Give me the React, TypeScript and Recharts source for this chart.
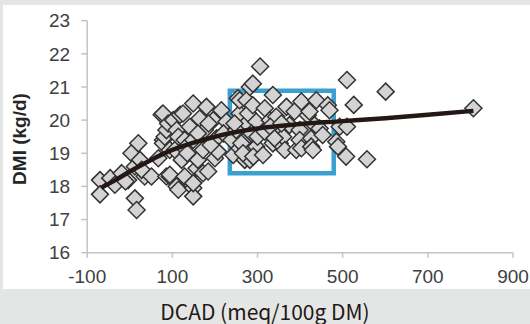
import React from 'react';
import { ScatterChart, Scatter, XAxis, YAxis, ReferenceArea } from 'recharts';

// Observed DCAD (meq/100g DM)
const dcad = [
  -70, -70, -46, -35, -19, -4, 4, 20, 12, 24, 35, 12, 16, -10, 28,
  51, 67, 75, 78, 78, 78, 82, 86, 86, 90, 94, 94, 94, 102, 106, 110, 110, 114, 114, 118, 122, 125, 129, 129, 129,
  141, 149, 149, 149, 149, 149, 157, 160, 164, 172, 172, 176, 180, 184, 196, 200, 204, 207, 215, 227, 160, 190, 220, 135, 185,
  239, 243, 254, 258, 258, 258, 270, 274, 274, 274, 274, 274, 278, 282, 282, 289, 289, 297, 297, 250, 262, 266, 286, 290, 246, 300,
  306, 313, 317, 317, 329, 336, 336, 344, 348, 352, 360, 364, 368, 375, 387, 391, 399, 399, 330, 340, 356,
  403, 403, 418, 422, 426, 426, 430, 434, 438, 446, 453, 465, 469, 485, 489, 493,
  510, 526, 510, 508, 557, 601, 807,
];
// Observed DMI (kg/d)
const dmi = [
  18.19, 17.76, 18.25, 18.05, 18.4, 18.19, 19.0, 19.3, 18.6, 18.8, 18.3, 17.64, 17.29, 18.15, 18.5,
  18.3, 18.85, 20.16, 20.2, 19.4, 19.3, 19.5, 18.3, 19.7, 19.9, 19.1, 18.3, 18.35, 20.0, 19.1, 19.7, 18.0, 19.5, 17.9, 20.16, 18.8, 20.2, 19.4, 19.15, 18.3,
  19.8, 20.5, 19.4, 17.95, 17.7, 18.1, 18.55, 18.8, 20.05, 19.1, 18.4, 19.7, 20.4, 18.45, 20.0, 18.85, 19.45, 19.05, 20.3, 19.95, 19.6, 19.25, 19.6, 19.0, 19.9,
  19.4, 18.95, 20.66, 20.2, 19.15, 20.6, 18.8, 19.9, 19.05, 19.45, 19.1, 20.6, 20.2, 21.0, 18.8, 21.1, 20.45, 19.95, 19.2, 19.7, 19.3, 19.0, 19.6, 18.9, 19.9, 19.5,
  21.62, 18.95, 20.36, 19.65, 20.0, 20.76, 19.3, 20.1, 19.6, 19.3, 19.5, 19.1, 20.4, 19.85, 20.26, 19.1, 19.7, 19.4, 19.8, 19.45, 19.9,
  20.56, 19.15, 20.15, 20.26, 19.45, 19.2, 19.1, 19.85, 20.6, 19.75, 19.55, 20.45, 20.3, 19.35, 19.2, 19.8,
  21.21, 20.46, 19.8, 18.9, 18.82, 20.86, 20.36,
];

// Fitted curve
const fitDcad = [-67, -30, 0, 50, 100, 150, 200, 250, 300, 400, 500, 600, 700, 807];
const fitDmi = [17.96, 18.22, 18.45, 18.8, 19.1, 19.32, 19.5, 19.64, 19.75, 19.88, 19.97, 20.06, 20.16, 20.28];

const xTicks = [-100, 100, 300, 500, 700, 900];
const yTicks = [16, 17, 18, 19, 20, 21, 22, 23];

// Highlighted window
const boxDcad = [235, 479];
const boxDmi = [18.4, 20.885];

const points = dcad.map((x, i) => ({ x, y: dmi[i] }));
const fit = fitDcad.map((x, i) => ({ x, y: fitDmi[i] }));

const Diamond = (props: any) => {
  const { cx, cy } = props;
  const r = 8.5;
  return (
    <polygon
      points={`${cx},${cy - r} ${cx + r},${cy} ${cx},${cy + r} ${cx - r},${cy}`}
      fill="#d3d3d3"
      stroke="#333333"
      strokeWidth={1.5}
    />
  );
};

const NoShape = () => <g />;

const tickStyle = { fontFamily: '"Liberation Sans", Arial, sans-serif', fontSize: 19, fill: '#404040' };

export default function App() {
  return (
    <div style={{ position: 'absolute', left: 0, top: 0, width: 530, height: 324, background: '#e4e6e5', overflow: 'hidden' }}>
      <div style={{ position: 'absolute', left: 3, top: 5, width: 527, height: 284, background: '#ffffff' }} />
      <div style={{ position: 'absolute', left: 0, top: 0 }}>
        <ScatterChart width={530} height={290} margin={{ top: 20.7, right: 17, bottom: 7.3, left: 27.2 }}>
          <XAxis
            type="number"
            dataKey="x"
            domain={[-100, 900]}
            ticks={xTicks}
            interval={0}
            height={30}
            tick={tickStyle}
            tickSize={5}
            tickMargin={12}
            axisLine={{ stroke: '#c4c4c4', strokeWidth: 1.5 }}
            tickLine={{ stroke: '#c4c4c4', strokeWidth: 1.5 }}
            allowDataOverflow
          />
          <YAxis
            type="number"
            dataKey="y"
            domain={[16, 23]}
            ticks={yTicks}
            interval={0}
            width={60}
            tick={tickStyle}
            tickSize={6}
            tickMargin={11}
            axisLine={{ stroke: '#c4c4c4', strokeWidth: 1.5 }}
            tickLine={{ stroke: '#c4c4c4', strokeWidth: 1.5 }}
            allowDataOverflow
          />
          <Scatter data={points} shape={Diamond} isAnimationActive={false} />
          <Scatter
            data={fit}
            shape={NoShape}
            line={{ stroke: '#231815', strokeWidth: 4.5 }}
            lineJointType="monotoneX"
            isAnimationActive={false}
          />
          <ReferenceArea
            x1={boxDcad[0]}
            x2={boxDcad[1]}
            y1={boxDmi[0]}
            y2={boxDmi[1]}
            fill="none"
            fillOpacity={0}
            stroke="#3aa0d0"
            strokeWidth={4.5}
            ifOverflow="visible"
          />
        </ScatterChart>
      </div>
      <div
        style={{
          position: 'absolute',
          left: 18.5,
          top: 138.5,
          transform: 'translate(-50%, -50%) rotate(-90deg)',
          whiteSpace: 'nowrap',
          fontFamily: '"Liberation Sans", Arial, sans-serif',
          fontWeight: 'bold',
          fontSize: 19,
          color: '#262626',
          lineHeight: 1,
        }}
      >
        DMI (kg/d)
      </div>
      <div
        style={{
          position: 'absolute',
          left: 0,
          width: 530,
          top: 311,
          transform: 'translateY(-50%)',
          textAlign: 'center',
          fontFamily: '"Noto Sans CJK JP", "Noto Sans", sans-serif',
          fontSize: 21,
          color: '#231815',
          lineHeight: 1,
          whiteSpace: 'nowrap',
        }}
      >
        DCAD (meq/100g DM)
      </div>
    </div>
  );
}
